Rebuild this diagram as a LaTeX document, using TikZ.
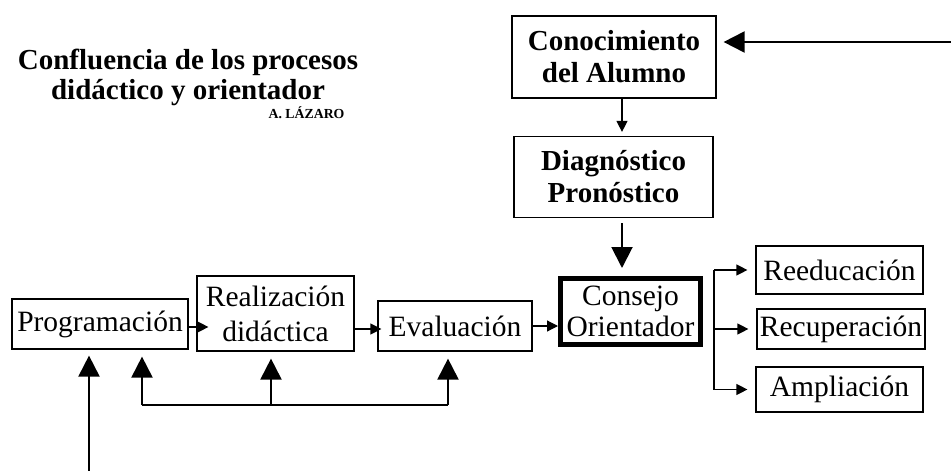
\documentclass[tikz,border=0pt]{standalone}
\usepackage{fontspec}
\setmainfont{Liberation Serif}
\usetikzlibrary{arrows.meta}

\begin{document}
\begin{tikzpicture}[line join=miter,x=1pt,y=-1pt,
  caja/.style={draw,line width=1.2pt,inner sep=0pt,align=center,font=\fontsize{29.5}{31}\selectfont},
  cajanegrita/.style={caja,font=\bfseries\fontsize{29}{32}\selectfont},
  flecha/.style={line width=1.2pt,-{Triangle[length=11pt,width=11pt]}},
  flechagrande/.style={line width=2pt,-{Triangle[length=21pt,width=21pt]}}]

	\useasboundingbox (0,0) rectangle (951,471);

	% titulo
	\node[align=center,font=\bfseries\fontsize{29}{30}\selectfont] (titulo) at (188,77) {Confluencia de los procesos\\didáctico y orientador};
	\node[anchor=east,font=\bfseries\fontsize{13.8}{15}\selectfont] (autor) at (348,113) {A. LÁZARO};

	% cajas
	\node[cajanegrita,minimum width=204pt,minimum height=82pt] (conoc) at (614,57) {Conocimiento\\del Alumno};
	\node[cajanegrita,minimum width=199pt,minimum height=81pt] (diag) at (613.5,177) {Diagnóstico\\Pronóstico};
	\node[caja,line width=5pt,minimum width=140pt,minimum height=66pt] (consejo) at (630.5,311.5) {Consejo\\Orientador};

	\node[caja,minimum width=176pt,minimum height=50pt] (prog) at (100,324) {Programación};
	\node[caja,minimum width=157pt,minimum height=75pt,font=\fontsize{29.5}{35}\selectfont] (real) at (275.5,313.5) {Realización\\didáctica};
	\node[caja,minimum width=154pt,minimum height=50pt] (eval) at (455,326) {Evaluación};

	\node[caja,minimum width=167pt,minimum height=48pt] (reedu) at (839.5,270) {Reeducación};
	\node[caja,minimum width=168pt,minimum height=40pt] (recup) at (841,329) {Recuperación};
	\node[caja,minimum width=167pt,minimum height=45pt] (ampl) at (839.5,389.5) {Ampliación};

	% flechas de arriba
	\coordinate (entrada) at (951,42);
	\coordinate (eje) at (622,0);
	\draw[flechagrande,shorten >=7pt] (entrada) -- (conoc.east |- entrada);
	\draw[flecha,shorten >=4pt] (eje |- conoc.south) -- (eje |- diag.north);
	\draw[flechagrande,shorten <=5pt,shorten >=8pt] (eje |- diag.south) -- (eje |- consejo.north);

	% proceso didactico
	\coordinate (nivel1) at (0,327);
	\coordinate (nivel2) at (0,329);
	\draw[flecha,shorten >=-12pt] (prog.east |- nivel1) -- (real.west |- nivel1);
	\draw[flecha,shorten >=-4pt] (real.east |- nivel2) -- (eval.west |- nivel2);
	\draw[flecha] (eval.east) -- (consejo.west |- eval.east);

	% ramas
	\coordinate (rama) at (714,0);
	\draw[line width=1.2pt] (rama |- reedu.west) -- (rama |- ampl.west);
	\foreach \n in {reedu,recup,ampl}
	{\draw[flecha,shorten >=8pt] (rama |- \n.west) -- (\n.west);
	}

	% entrada a programacion
	\coordinate (abajo) at (89,471);
	\draw[flechagrande,shorten >=6pt] (abajo) -- (abajo |- prog.south);

	% retroalimentacion
	\coordinate (ret1) at (142,405);
	\coordinate (ret2) at (271,405);
	\coordinate (ret3) at (448,405);
	\draw[line width=2pt] (ret1) -- (ret3);
	\foreach \c/\n in {ret1/prog,ret2/real,ret3/eval}
	{\draw[flechagrande,shorten >=7pt] (\c) -- (\c |- \n.south);
	}

\end{tikzpicture}
\end{document}
